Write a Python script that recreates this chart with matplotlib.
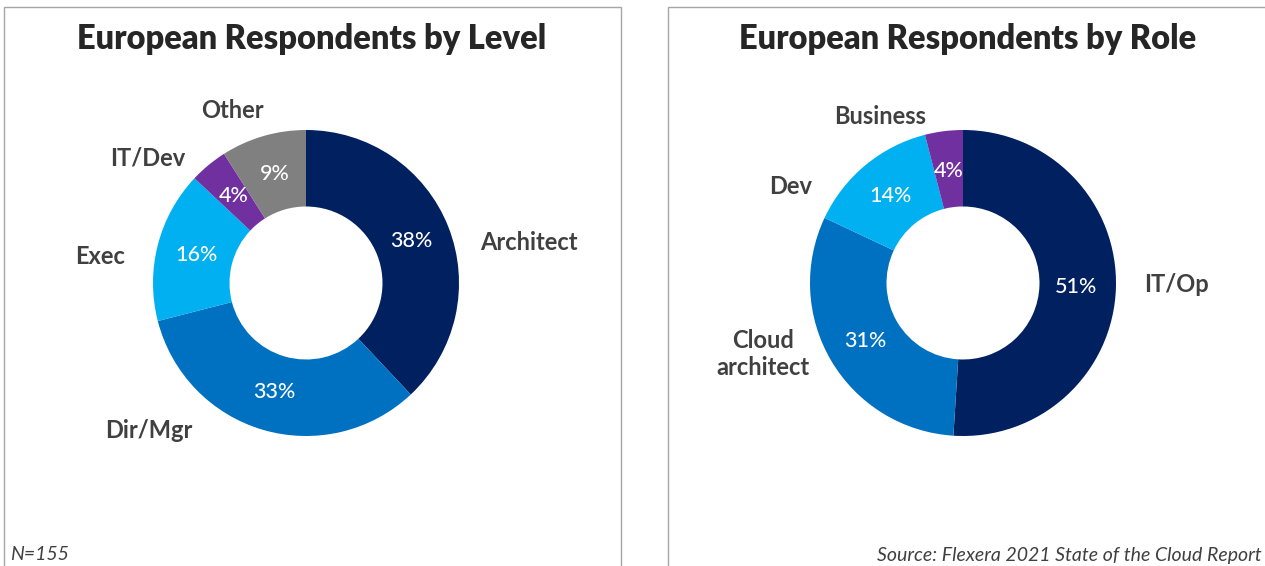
import matplotlib.pyplot as plt
from matplotlib.patches import Rectangle

# данные
level_names = ["Architect", "Dir/Mgr", "Exec", "IT/Dev", "Other"]
level_values = [38, 33, 16, 4, 9]
role_names = ["IT/Op", "Cloud\narchitect", "Dev", "Business"]
role_values = [51, 31, 14, 4]

level_colors = ["#002060", "#0070C0", "#00B0F0", "#7030A0", "#808080"]
role_colors = ["#002060", "#0070C0", "#00B0F0", "#7030A0"]

W, H = 1265, 566
plt.rcParams['font.family'] = ['Lato', 'DejaVu Sans']

fig = plt.figure(figsize=(W / 100, H / 100), dpi=100)
ax = fig.add_axes([0, 0, 1, 1])


def py(y):
    # перевод из пиксельной координаты сверху в координату оси
    return H - y


def donut(values, colors, cx, cy, r):
    wedges, texts, autotexts = ax.pie(
        values, colors=colors, startangle=90, counterclock=False,
        radius=r, center=(cx, py(cy)), autopct="%d%%", pctdistance=0.74,
        wedgeprops=dict(width=r * 0.5, linewidth=0),
        textprops=dict(color="white", fontsize=15.5, fontweight="medium"))
    return autotexts


donut(level_values, level_colors, 306, 283, 153)
donut(role_values, role_colors, 963, 283, 153)

ax.set_xlim(0, W)
ax.set_ylim(0, H)
ax.set_aspect("equal")
ax.axis("off")

# рамки панелей
ax.add_patch(Rectangle((4, py(600)), 617, 593, fill=False, edgecolor="#A6A6A6", linewidth=1))
ax.add_patch(Rectangle((668, py(600)), 700, 593, fill=False, edgecolor="#A6A6A6", linewidth=1))

title_kw = dict(fontsize=23.5, fontweight="heavy", color="#262626", ha="center", va="center")
ax.text(312, py(39), "European Respondents by Level", **title_kw)
ax.text(968, py(39), "European Respondents by Role", **title_kw)

lab_kw = dict(fontsize=17, fontweight="bold", color="#404040", va="center")
level_pos = [(480, 242, "left"), (149, 431, "center"), (100, 256, "center"),
             (148, 158, "center"), (232, 111, "center")]
for name, (x, y, ha) in zip(level_names, level_pos):
    ax.text(x, py(y), name, ha=ha, **lab_kw)

role_pos = [(1176, 285, "center"), (763, 354, "center"), (791, 187, "center"),
            (880, 116, "center")]
for name, (x, y, ha) in zip(role_names, role_pos):
    ax.text(x, py(y), name, ha=ha, linespacing=1.2, **lab_kw)

foot_kw = dict(fontsize=14, fontstyle="italic", color="#404040", va="center")
ax.text(10, py(555), "N=155", ha="left", **foot_kw)
ax.text(1262, py(555), "Source: Flexera 2021 State of the Cloud Report", ha="right", **foot_kw)

fig.savefig("out.png", dpi=100)
